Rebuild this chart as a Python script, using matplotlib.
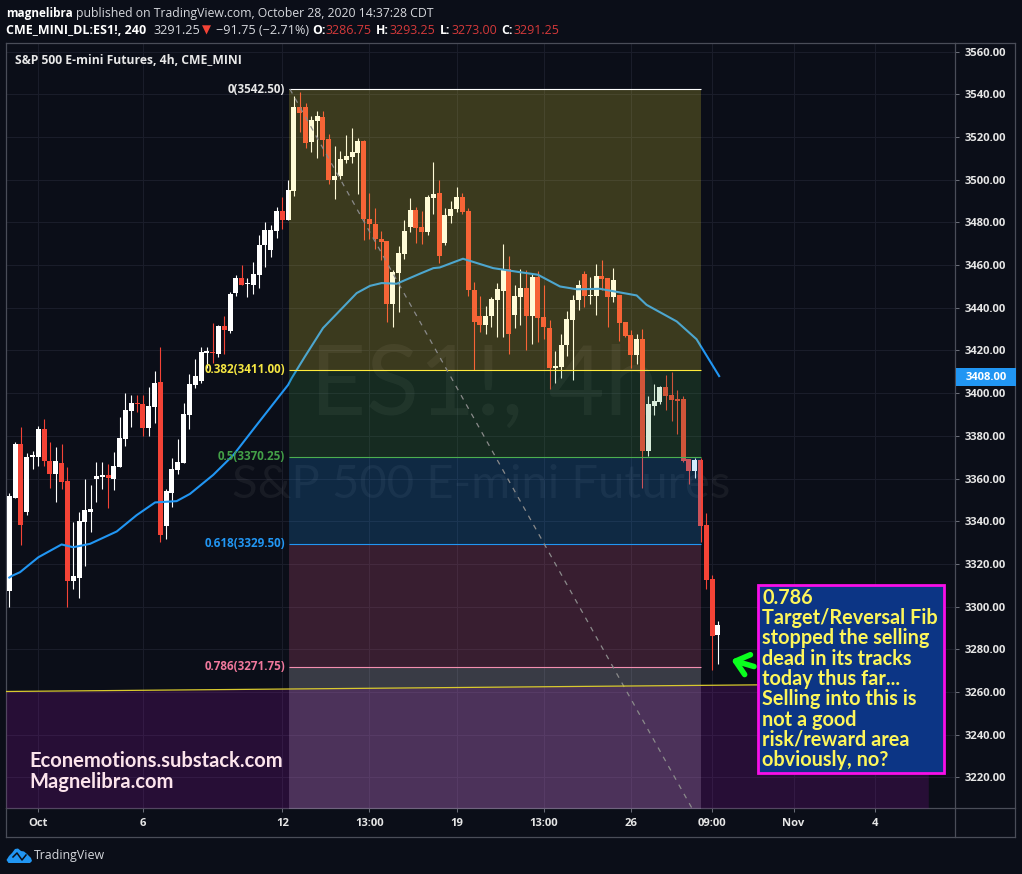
import matplotlib
matplotlib.use("Agg")
import matplotlib.pyplot as plt
from matplotlib.patches import Rectangle, Polygon

W, H = 1022, 874
BG = "#0b0e18"
FONT = "Open Sans"

opens = [3307.5,3351,3376,3344.5,3370,3370,3383,3368,3362,3367.3,3359,3312,3313.4,3339.7,3344.4,3359.8,3360.8,3361.7,3360,3365.5,
 3378.6,3391.7,3395.5,3395,3383.7,3393.6,3405.3,3337.8,3353.3,3364,3367.3,3389.8,3404,3405.8,3419,3419.2,3418.5,3431.6,3429.2,3447,
 3454,3451,3450.8,3455.5,3469.6,3467.2,3476.1,3485.5,3481.3,3494.9,3534.2,3534.2,3517.8,3527.7,3529.6,3519.2,3500,3501.9,3509.4,3510.8,
 3512.7,3518.3,3481.7,3479.4,3472.4,3471.4,3441.9,3456.4,3465.3,3478,3486,3478,3475.6,3491.6,3494,3470.5,3483.1,3486.4,3492,3485.5,
 3448.4,3436.2,3432,3436.2,3443.7,3448,3458.3,3436.7,3445.2,3449.4,3436.2,3454.5,3435.8,3430.6,3411.9,3412.3,3422.6,3434.4,3443.7,3455.9,
 3445.6,3445.6,3455,3454,3445.2,3446.1,3433.4,3427.3,3418,3425.5,3372.9,3394,3395.9,3403,3399.2,3397.3,3397.3,3369.2,3363.6,3368.7,
 3338.3,3312.9,3286.75]
highs = [3353,3377,3384,3372,3373,3384.7,3388,3377,3375,3376,3365.5,3339.7,3344.4,3360,3357,3367.8,3367.8,3367,3372.5,3389,
 3400,3399,3399,3399,3403,3410.5,3421.7,3355,3369.7,3378.6,3395.5,3409,3416,3421.7,3421.7,3433,3432,3436,3447.5,3455.5,
 3460,3454,3461.6,3474,3480.3,3479,3487.4,3492,3500,3539.4,3541.3,3536,3530,3532,3532.4,3521.6,3516,3513.6,3521,3524.4,
 3519.7,3518.8,3494,3486.9,3476,3471.4,3457.8,3469,3481.3,3491.6,3487.4,3485.5,3493,3508.5,3500,3487,3490.2,3496.7,3494,3487,
 3452.2,3445.6,3440.9,3445.2,3451.7,3470,3464.4,3450.8,3458.3,3457.8,3456.4,3457.3,3450.8,3434.4,3419.8,3427.8,3438.6,3446.1,3453.1,3457.3,
 3454.5,3460.6,3462.5,3454,3458.8,3446.1,3433.4,3429.7,3427.8,3430.2,3398.8,3404.4,3403.4,3408.6,3410,3401.6,3398.7,3369.2,3369.7,3369.5,
 3343.9,3314.8,3293.25]
lows = [3300,3351,3329,3343,3364.5,3366,3366,3355.6,3349,3355.3,3300,3308,3303.8,3319,3335,3349,3355,3346,3354.7,3365.5,
 3375.3,3384,3391,3380,3380,3386,3330.3,3331.7,3346.7,3362.2,3367.3,3383.3,3402.5,3404.8,3412,3414,3417,3418.5,3428,3445.6,
 3450.8,3445,3446.6,3449.4,3459.2,3464,3472.8,3477,3481,3492.5,3522.5,3515,3513,3510,3511.3,3498.2,3491,3500.5,3508,3508,
 3493.5,3471.9,3472.4,3467.7,3462.5,3433.5,3431,3438,3463,3475.6,3470.5,3470,3474.2,3484,3461.1,3469.6,3479.9,3485,3484,3445.6,
 3410.9,3428.8,3427.8,3431.1,3426.4,3426.4,3418.4,3430.6,3432,3420.3,3423.1,3424.1,3425.5,3402,3404.8,3407.2,3417.5,3406.3,3439.1,3440.5,
 3441.9,3436.7,3448.4,3431.1,3442.8,3424.5,3426.4,3411.9,3413.8,3355.6,3370.6,3389.8,3395,3392.2,3387,3381,3367.8,3357.5,3360.3,3330.3,
 3308.3,3270.3,3273]
closes = [3351.6,3376.25,3338,3370,3371,3383,3368,3362,3368,3358.4,3312,3314.4,3340,3345.3,3345.8,3361.3,3361.7,3360.3,3366,3379,
 3392,3395.5,3395,3383.7,3394,3404.8,3333.6,3354.2,3364.5,3367.8,3390.3,3404.4,3408,3419.4,3419.5,3418.6,3431.6,3429.4,3446.6,3454,
 3450.8,3451.3,3456,3469.6,3476.6,3476.6,3485.5,3481.3,3495.3,3534.2,3531.4,3517.4,3528,3530,3518.8,3500,3501.9,3509.9,3511.3,3513,
 3518.3,3481.7,3479.4,3472.4,3471,3441.9,3456.9,3465.8,3476,3486,3477.5,3475.6,3492,3493.5,3464.4,3483.6,3486.4,3492,3485,3448.4,
 3433.4,3432,3436.2,3444.2,3448.9,3458.3,3427.8,3445.6,3449.4,3436.2,3454.5,3435.3,3431.1,3411.9,3412.8,3422.6,3434.8,3443.7,3450.8,3445.6,
 3446.1,3455,3453.6,3445.2,3453.1,3433,3426.9,3418,3425.5,3372.9,3395,3396.4,3403,3398.8,3396.9,3396.4,3368.3,3363.6,3368.7,3337.8,
 3312.5,3286.2,3291.25]

ema_idx = [0,0.46,1.84,5,9,11,13.9,18.5,21.9,25.1,28.8,31.1,35.1,38.6,42.3,48,48.6,50.9,54,59.8,62.1,64.1,66.7,70.7,73,74.1,78.1,
 83.3,87.9,91,94.8,97.7,101.7,108,109.7,114.9,118.3,122.2]
ema_val = [3313.6,3314.4,3316.1,3323.1,3329.1,3327.8,3329.4,3335.2,3342.8,3348.8,3349.4,3352.8,3361.7,3371.1,3384.1,3403.9,3407,3417.2,3430.5,3446.9,3450.3,3451.6,3451.3,3456,3458.6,3458.9,3463,
 3458.6,3456.7,3455.5,3450,3448.7,3448.9,3445.8,3441.4,3433.6,3425.3,3408]

fib_levels = [3542.5, 3411.0, 3370.25, 3329.5, 3271.75, 3197.84]
fib_names = ["0", "0.382", "0.5", "0.618", "0.786"]
fib_line_colors = ["#ffffff", "#ffeb3b", "#4caf50", "#2196f3", "#f48fb1"]
fib_label_colors = ["#e8e8e8", "#f5e642", "#43a047", "#2196f3", "#f0789c"]
fib_fill_colors = ["#ffeb3b", "#43a047", "#2196f3", "#f06292", "#f2f0fa"]
fib_start, fib_end = 48.2, 119.0

trend_idx = [48.3, 117.5]
trend_val = [3542.5, 3205.6]
support_idx = [-0.57, 128.7]
support_val = [3260.2, 3263.3]
zone_end = 158.2

y_ticks = list(range(3220, 3561, 20))
x_tick_pos = [5, 23, 47, 62, 77, 92, 107, 121, 135, 149]
x_tick_labels = ["Oct", "6", "12", "13:00", "19", "13:00", "26", "09:00", "Nov", "4"]
last_price = 3408.0

note_lines = ["0.786", "Target/Reversal Fib", "stopped the selling", "dead in its tracks", "today thus far...",
              "Selling into this is", "not a good", "risk/reward area", "obviously, no?"]
site_lines = ["Econemotions.substack.com", "Magnelibra.com"]

plt.rcParams["font.family"] = [FONT, "DejaVu Sans"]
fig = plt.figure(figsize=(W / 100, H / 100), dpi=100, facecolor=BG)
ax = fig.add_axes([6 / W, 1 - 808 / H, (955 - 6) / W, (808 - 43) / H], facecolor=BG)
ax.set_xlim(-0.57, 162.8)
ax.set_ylim(3205.6, 3564.1)
ax.yaxis.tick_right()
ax.set_yticks(y_ticks)
ax.set_yticklabels([f"{v:.2f}" for v in y_ticks], fontweight="bold")
ax.set_xticks(x_tick_pos)
ax.set_xticklabels(x_tick_labels, fontweight="bold")
ax.grid(True, color="#1a1d2a", lw=0.75, zorder=1)
ax.set_axisbelow(True)
ax.tick_params(axis="y", length=3, width=0.75, color="#6a6d78", labelcolor="#e6e6e6", labelsize=8.1, pad=3.6)
ax.tick_params(axis="x", length=3, width=0.75, color="#6a6d78", labelcolor="#e6e6e6", labelsize=8.1, pad=4)
for s in ax.spines.values():
    s.set_color("#4a4d58")
    s.set_linewidth(0.9)

# watermark
ax.text(51.8, 3389.8, "ES1!, 4h", color="#ffffff", alpha=0.055, fontsize=70, ha="left", va="baseline", zorder=1.5, fontfamily="Lato")
ax.text(38.4, 3350.9, "S&P 500 E-mini Futures", color="#ffffff", alpha=0.055, fontsize=34, ha="left", va="baseline", zorder=1.5, fontfamily="Lato")

# candles
UP, DOWN = "#ffffff", "#f44336"
for i, (o, h, l, c) in enumerate(zip(opens, highs, lows, closes)):
    col = UP if c >= o else DOWN
    ax.vlines(i, l, h, color=col, lw=0.8, zorder=3)
    ax.bar(i, max(abs(c - o), 0.6), bottom=min(o, c), width=0.86, color=col, lw=0, zorder=3)

ax.plot(ema_idx, ema_val, color="#2196f3", lw=1.5, zorder=3.5, solid_joinstyle="round")

# Fibonacci zones
for k, col in enumerate(fib_fill_colors):
    ax.fill_between([fib_start, fib_end], fib_levels[k + 1], fib_levels[k], color=col, alpha=0.2, lw=0, zorder=4)
slope = (support_val[1] - support_val[0]) / (support_idx[1] - support_idx[0])
ax.fill_between([support_idx[0], zone_end], 3205.6, [support_val[0], support_val[0] + slope * (zone_end - support_idx[0])],
                color="#9c0eb0", alpha=0.2, lw=0, zorder=4.2)
for k, name in enumerate(fib_names):
    ax.plot([fib_start, fib_end], [fib_levels[k]] * 2, color=fib_line_colors[k], lw=0.8, zorder=5, solid_capstyle="butt")
    ax.text(fib_start - 0.7, fib_levels[k], f"{name}({fib_levels[k]:.2f})", color=fib_label_colors[k], fontsize=8.4, fontweight="bold", ha="right", va="center", zorder=6)

ax.plot(trend_idx, trend_val, color="#8a8a8a", lw=0.9, ls=(0, (4, 4.5)), zorder=5)
ax.plot(support_idx, support_val, color="#d8c92e", lw=0.9, zorder=5)

# green arrow
ax.annotate("", xy=(124.3, 3275), xytext=(128.2, 3271.9),
            arrowprops=dict(arrowstyle="->,head_length=0.75,head_width=0.62", color="#0aff1e", lw=4.0, shrinkA=0, shrinkB=0, mutation_scale=12), zorder=7)


def ptext(x, y, s, color="#d6d8dd", size=8.4, weight="normal", ha="left", zo=8, family=None):
    fig.text(x / W, 1 - y / H, s, color=color, fontsize=size, fontweight=weight, ha=ha, va="center", zorder=zo,
             family=family if family else [FONT, "DejaVu Sans"])


def prect(x0, y0, x1, y1, **kw):
    fig.add_artist(Rectangle((x0 / W, 1 - y1 / H), (x1 - x0) / W, (y1 - y0) / H, transform=fig.transFigure, **kw))


def pline(x0, y0, x1, y1, color="#4a4d58"):
    fig.add_artist(plt.Line2D([x0 / W, x1 / W], [1 - y0 / H, 1 - y1 / H], color=color, lw=0.9, transform=fig.transFigure))


# frame
pline(955, 43, 1015, 43)
pline(6, 837, 1015, 837)
pline(955, 808, 1015, 808)
pline(6, 808, 6, 837)
pline(955, 808, 955, 837)
pline(1015, 43, 1015, 837)

# header
RED = "#d5393a"
ptext(6, 13, "magnelibra", color="#ffffff", weight="bold", size=8.5)
ptext(75.5, 13, "published on TradingView.com, October 28, 2020 14:37:28 CDT", size=8.8)
ptext(6, 30, "CME_MINI_DL:ES1!, 240", color="#ffffff", weight="bold", size=9.0)
ptext(153, 30, "3291.25", size=9.1)
ptext(201.5, 30, "▼", color="#f44336", size=8.5)
ptext(216, 30, "−91.75 (−2.71%)", size=9.1)
for x0, lab, x1, val in [(312.5, "O:", 326, "3286.75"), (376, "H:", 389, "3293.25"), (440, "L:", 451.5, "3273.00"), (501, "C:", 513.5, "3291.25")]:
    ptext(x0, 30, lab, color="#ffffff", weight="bold", size=8.8)
    ptext(x1, 30, val, color=RED, size=9.0)
ptext(15, 61, "S&P 500 E-mini Futures, 4h, CME_MINI", color="#e8e8e8", weight="bold", size=8.75)

# last price tag
prect(956, 368, 1016, 386, facecolor="#2196f3", edgecolor="none", zorder=7)
ptext(986, 377, f"{last_price:.2f}", color="#ffffff", weight="bold", size=8.1, ha="center")

# note box
prect(758, 584.5, 944, 773, facecolor="#0c3585", edgecolor="#f80fe8", lw=2.0, zorder=7)
for k, line in enumerate(note_lines):
    ptext(762, 597.5 + 20.35 * k, line, color="#fdf65a", size=14.3, weight="bold", zo=8, family="Lato")

# site text
for k, line in enumerate(site_lines):
    ptext(29, 761 + 21 * k, line, color="#fce4ec", size=14.5, weight="bold", family="Lato")

# logo
logo = [(6.5, 860), (9, 856), (12, 853), (15, 849), (18, 848.5), (21, 851), (24, 851.5), (27, 854), (31, 858), (32, 861), (30, 863), (8.5, 863)]
fig.add_artist(Polygon([(x / W, 1 - y / H) for x, y in logo], closed=True, transform=fig.transFigure, facecolor="#2196f3", edgecolor="none"))
zig = [(13, 857), (17, 853), (22, 860), (26, 855)]
fig.add_artist(plt.Line2D([x / W for x, _ in zig], [1 - y / H for _, y in zig], color=BG, lw=1.1, transform=fig.transFigure))
ptext(34, 856, "TradingView", color="#d6d8dd", size=8.9)

fig.savefig("out.png", dpi=100, facecolor=BG)
